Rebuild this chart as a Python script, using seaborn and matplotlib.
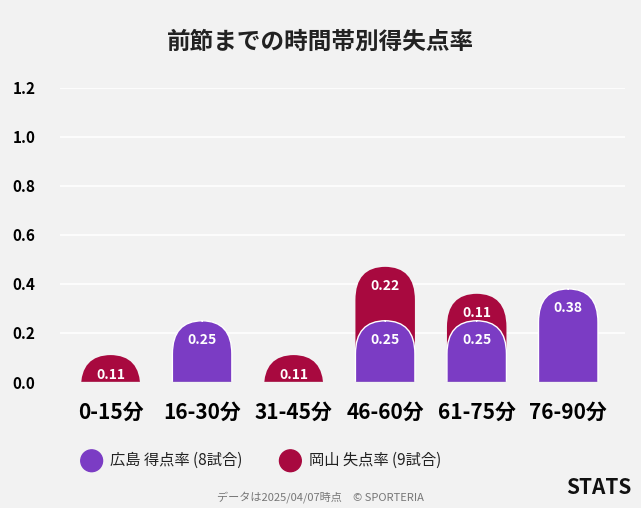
import numpy as np
import pandas as pd
import seaborn as sns
import matplotlib.pyplot as plt
from matplotlib.patches import FancyBboxPatch, Rectangle, Ellipse

plt.rcParams["font.family"] = "Noto Sans CJK JP"

periods = ["0-15分", "16-30分", "31-45分", "46-60分", "61-75分", "76-90分"]
hiroshima = [0, 0.25, 0, 0.25, 0.25, 0.38]   # 得点率
okayama = [0.11, 0, 0.11, 0.22, 0.11, 0]     # 失点率

purple = "#7b3cc4"
red = "#a8093f"
bg = "#f2f2f2"

df = pd.DataFrame({"period": periods, "hiro": hiroshima, "oka": okayama})
df["total"] = df["hiro"] + df["oka"]

fig = plt.figure(figsize=(6.41, 5.08), dpi=100, facecolor=bg)
ax = fig.add_axes([0.094, 0.248, 0.881, 0.579], facecolor=bg)

sns.barplot(data=df, x="period", y="total", color=red, width=0.65, ax=ax)
sns.barplot(data=df, x="period", y="hiro", color=purple, width=0.65, ax=ax)
ax.set_ylim(0, 1.2)
ax.set_xlim(-0.55, 5.62)

# round the tops of the bars
aspect = (1.2 / 294) / (6.17 / 565)
clip = Rectangle((-1, 0), 10, 5, transform=ax.transData)
old = list(ax.patches)
for i, p in enumerate(old):
    p.remove()
    h = p.get_height()
    if h <= 0:
        continue
    fc = red if i < 6 else purple
    ec = "none" if i < 6 else "white"
    box = FancyBboxPatch((p.get_x(), -0.2), p.get_width(), h + 0.2,
                         boxstyle="round,pad=0,rounding_size=0.33",
                         mutation_aspect=aspect * 1.1, fc=fc, ec=ec, lw=1, zorder=3)
    ax.add_patch(box)
    box.set_clip_path(clip)

for i, (h, o) in enumerate(zip(hiroshima, okayama)):
    if h > 0:
        ax.text(i, h - 0.08, f"{h:.2f}", ha="center", va="center", color="white",
                fontsize=10, fontweight="bold", zorder=5)
    if o > 0:
        ax.text(i, h + o - 0.08, f"{o:.2f}", ha="center", va="center", color="white",
                fontsize=10, fontweight="bold", zorder=5)

ax.set_yticks(np.arange(0, 1.21, 0.2))
ax.set_yticklabels([f"{v:.1f}" for v in np.arange(0, 1.21, 0.2)], fontsize=11, fontweight="bold")
ax.tick_params(axis="y", length=0, pad=18)
ax.tick_params(axis="x", length=0, pad=14, labelsize=15)
for t in ax.get_xticklabels():
    t.set_fontweight("bold")
ax.grid(axis="y", color="white", lw=1.2, zorder=0)
ax.set_axisbelow(True)
ax.set_xlabel("")
ax.set_ylabel("")
sns.despine(ax=ax, left=True, bottom=True)
ax.axhline(0, color="#cccccc", lw=1, zorder=4)

fig.text(0.5, 0.917, "前節までの時間帯別得失点率", ha="center", va="center",
         fontsize=17, fontweight="bold", color="#222222")

for cx, col, lab in [(0.143, purple, "広島 得点率 (8試合)"), (0.453, red, "岡山 失点率 (9試合)")]:
    fig.patches.append(Ellipse((cx, 0.093), 0.034, 0.034 * 641 / 508,
                               transform=fig.transFigure, color=col, figure=fig))
    fig.text(cx + 0.029, 0.093, lab, va="center", fontsize=11, color="#222222")

fig.text(0.5, 0.022, "データは2025/04/07時点　© SPORTERIA", ha="center", va="center",
         fontsize=8, color="#777777")
fig.text(0.985, 0.04, "STATS", ha="right", va="center", fontsize=15, fontweight="bold", color="#111111")

fig.savefig("out.png", dpi=100, facecolor=bg)
